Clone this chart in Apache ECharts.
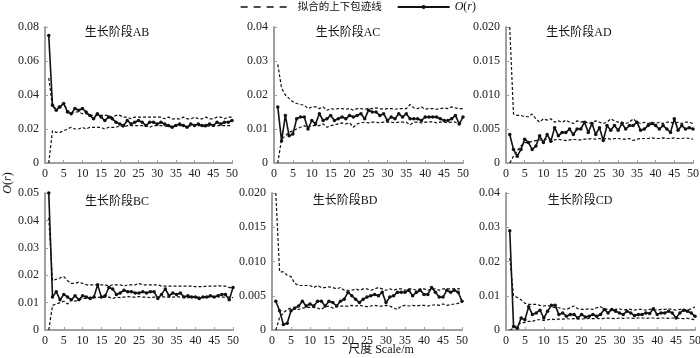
<!DOCTYPE html>
<html><head><meta charset="utf-8">
<script src="https://cdn.jsdelivr.net/npm/echarts@6/dist/echarts.min.js"></script>
<style>html,body{margin:0;padding:0;background:#fff}#c{width:700px;height:358px}</style>
</head><body><div id="c"></div>
<script>
// r = 1..50
var radii = [];
for (var i = 1; i <= 50; i++) radii.push(i);
var xTicks = [0,5,10,15,20,25,30,35,40,45,50];

var panelNames = ['生长阶段AB','生长阶段AC','生长阶段AD','生长阶段BC','生长阶段BD','生长阶段CD'];
var yMax  = [0.08, 0.04, 0.020, 0.05, 0.020, 0.04];
var yStep = [0.02, 0.01, 0.005, 0.01, 0.005, 0.01];
var yDecimals = [2, 2, 3, 2, 3, 2];

var oAB = [0.075,0.034,0.031,0.033,0.035,0.030,0.029,0.032,0.031,0.032,
           0.030,0.028,0.026,0.029,0.027,0.025,0.027,0.026,0.024,0.023,
           0.022,0.025,0.023,0.024,0.025,0.024,0.022,0.024,0.024,0.023,
           0.024,0.023,0.022,0.021,0.022,0.023,0.022,0.021,0.023,0.022,
           0.023,0.022,0.022,0.023,0.022,0.024,0.023,0.024,0.024,0.025];
var upAB = [0.050,0.033,0.032,0.034,0.035,0.031,0.029,0.030,0.030,0.029,
            0.029,0.028,0.028,0.028,0.028,0.028,0.028,0.027,0.028,0.028,
            0.027,0.027,0.026,0.027,0.027,0.027,0.027,0.027,0.027,0.027,
            0.027,0.026,0.027,0.026,0.026,0.026,0.027,0.026,0.026,0.027,
            0.026,0.026,0.027,0.026,0.026,0.027,0.027,0.026,0.027,0.027];
var loAB = [0.000,0.019,0.018,0.018,0.019,0.020,0.021,0.020,0.020,0.021,
            0.020,0.021,0.021,0.021,0.021,0.020,0.021,0.021,0.021,0.022,
            0.021,0.022,0.022,0.022,0.022,0.022,0.022,0.021,0.022,0.022,
            0.022,0.022,0.021,0.022,0.022,0.022,0.022,0.021,0.022,0.022,
            0.022,0.022,0.021,0.022,0.022,0.022,0.022,0.022,0.022,0.022];

var oAC = [0.0165,0.0065,0.014,0.008,0.0085,0.013,0.0135,0.0135,0.010,0.0125,
           0.0115,0.0145,0.0125,0.013,0.014,0.0125,0.013,0.0135,0.013,0.014,
           0.0135,0.014,0.0145,0.013,0.0155,0.015,0.015,0.014,0.0145,0.0125,
           0.0135,0.013,0.0145,0.0135,0.0145,0.013,0.013,0.013,0.0125,0.0135,
           0.0135,0.0135,0.0135,0.013,0.0125,0.0125,0.013,0.014,0.0115,0.0135];
var upAC = [0.029,0.022,0.020,0.019,0.018,0.0175,0.0172,0.017,0.016,0.0165,
            0.0165,0.016,0.0165,0.0155,0.016,0.0158,0.016,0.016,0.0158,0.016,
            0.0155,0.016,0.016,0.0158,0.016,0.016,0.0162,0.016,0.0158,0.016,
            0.016,0.0158,0.016,0.016,0.016,0.0172,0.0162,0.016,0.0165,0.0158,
            0.016,0.016,0.0158,0.016,0.0162,0.016,0.0165,0.0162,0.016,0.016];
var loAC = [0.0,0.007,0.008,0.009,0.0095,0.010,0.0105,0.011,0.0105,0.011,
            0.011,0.011,0.0115,0.0105,0.011,0.0112,0.0115,0.0118,0.0115,0.0118,
            0.0105,0.0115,0.0118,0.012,0.0118,0.012,0.012,0.0118,0.012,0.012,
            0.012,0.0118,0.012,0.012,0.012,0.0112,0.012,0.012,0.0118,0.012,
            0.012,0.0122,0.0118,0.012,0.012,0.0118,0.012,0.012,0.0115,0.012];

var oAD = [0.0042,0.002,0.001,0.002,0.0035,0.003,0.002,0.0025,0.004,0.003,
           0.0042,0.0032,0.0052,0.004,0.0045,0.0045,0.005,0.0042,0.005,0.005,
           0.006,0.0045,0.0058,0.0042,0.0052,0.0033,0.0055,0.0048,0.0055,0.0048,
           0.0058,0.005,0.0055,0.0055,0.006,0.0048,0.005,0.0055,0.0058,0.0055,
           0.005,0.0055,0.005,0.0045,0.0065,0.0048,0.0055,0.005,0.0052,0.005];
var upAD = [0.020,0.0072,0.007,0.007,0.0068,0.0068,0.0072,0.0065,0.006,0.0065,
            0.0063,0.0065,0.006,0.0062,0.006,0.0063,0.006,0.0058,0.0062,0.006,
            0.0062,0.0058,0.006,0.0062,0.006,0.0058,0.006,0.0065,0.0062,0.006,
            0.006,0.0058,0.006,0.0065,0.006,0.0058,0.006,0.0058,0.006,0.0058,
            0.006,0.0058,0.006,0.006,0.0058,0.006,0.0058,0.006,0.006,0.0058];
var loAD = [0.0,0.001,0.0018,0.0025,0.003,0.003,0.0032,0.0033,0.0034,0.0034,
            0.0035,0.0035,0.0034,0.0035,0.0034,0.0033,0.0034,0.0035,0.0034,0.0034,
            0.0035,0.0035,0.0036,0.0035,0.0036,0.0035,0.0036,0.0035,0.0036,0.0036,
            0.0035,0.0035,0.0036,0.0033,0.0035,0.0036,0.0036,0.0036,0.0037,0.0036,
            0.0036,0.0037,0.0036,0.0036,0.0037,0.0036,0.0036,0.0037,0.0036,0.0035];

var oBC = [0.05,0.012,0.014,0.011,0.013,0.012,0.011,0.0125,0.011,0.0125,
           0.012,0.0115,0.012,0.0165,0.012,0.0125,0.0155,0.015,0.013,0.0135,
           0.0145,0.014,0.014,0.0135,0.0135,0.014,0.0135,0.014,0.014,0.0115,
           0.013,0.015,0.0125,0.0135,0.013,0.0135,0.012,0.0125,0.012,0.012,
           0.0115,0.012,0.012,0.0125,0.012,0.0125,0.013,0.013,0.011,0.0155];
var upBC = [0.041,0.018,0.0185,0.019,0.0195,0.018,0.017,0.017,0.0175,0.017,
            0.0165,0.0165,0.0165,0.0165,0.0165,0.0165,0.016,0.0165,0.0165,0.0165,
            0.016,0.0165,0.0165,0.0165,0.017,0.0165,0.0165,0.0165,0.0165,0.0165,
            0.016,0.016,0.016,0.016,0.016,0.016,0.016,0.016,0.016,0.0158,
            0.0158,0.0158,0.016,0.016,0.016,0.0162,0.016,0.016,0.0155,0.0155];
var loBC = [0.0,0.009,0.0095,0.010,0.0105,0.0095,0.011,0.0105,0.011,0.0115,
            0.0115,0.012,0.0118,0.012,0.0118,0.012,0.012,0.0115,0.012,0.0118,
            0.012,0.0122,0.012,0.012,0.0122,0.012,0.012,0.0118,0.012,0.012,
            0.0122,0.012,0.012,0.012,0.0122,0.012,0.012,0.0118,0.012,0.012,
            0.012,0.0122,0.012,0.012,0.012,0.0122,0.012,0.012,0.012,0.0118];

var oBD = [0.0042,0.0028,0.0008,0.001,0.0028,0.0032,0.0035,0.0042,0.0035,0.0038,
           0.0035,0.0042,0.0042,0.0035,0.0042,0.004,0.0035,0.0042,0.0045,0.0055,
           0.005,0.0045,0.004,0.0045,0.0048,0.005,0.0052,0.005,0.0055,0.004,
           0.0048,0.005,0.0055,0.0055,0.0055,0.0058,0.005,0.0055,0.0058,0.0052,
           0.0052,0.0062,0.0055,0.0048,0.0048,0.0058,0.0055,0.0058,0.0055,0.0042];
var upBD = [0.020,0.0085,0.0085,0.008,0.0078,0.0068,0.0065,0.0065,0.0065,0.0065,
            0.0062,0.0065,0.0062,0.0062,0.0063,0.0062,0.006,0.0062,0.0058,0.0058,
            0.0058,0.006,0.0058,0.006,0.006,0.0058,0.006,0.0062,0.006,0.0058,
            0.006,0.0058,0.006,0.006,0.0058,0.006,0.006,0.0058,0.006,0.006,
            0.0058,0.006,0.006,0.0058,0.006,0.006,0.006,0.006,0.006,0.006];
var loBD = [0.0,0.0018,0.0025,0.003,0.0032,0.003,0.003,0.0032,0.0033,0.0033,
            0.0033,0.0032,0.003,0.0034,0.0035,0.0032,0.0034,0.0035,0.0035,0.0035,
            0.0036,0.0035,0.0036,0.0035,0.0034,0.0035,0.0036,0.0035,0.0035,0.0036,
            0.0035,0.0032,0.003,0.0035,0.0036,0.0035,0.0036,0.0035,0.0036,0.0036,
            0.0035,0.0036,0.0037,0.0036,0.0038,0.0036,0.0037,0.0038,0.0039,0.004];

var oCD = [0.029,0.001,0.0005,0.0035,0.003,0.0068,0.0045,0.005,0.0058,0.0035,
           0.0055,0.0072,0.0072,0.0045,0.005,0.004,0.0045,0.0045,0.0035,0.0045,
           0.0038,0.004,0.0045,0.004,0.0045,0.006,0.005,0.006,0.0055,0.005,
           0.0045,0.0055,0.005,0.0042,0.0045,0.0045,0.005,0.0048,0.0062,0.0045,
           0.005,0.005,0.0055,0.005,0.0035,0.005,0.0058,0.0055,0.005,0.004];
var upCD = [0.021,0.010,0.0095,0.0088,0.0078,0.0075,0.0075,0.0075,0.0072,0.007,
            0.0072,0.0068,0.0065,0.0065,0.0062,0.006,0.0065,0.007,0.0062,0.006,
            0.006,0.0062,0.006,0.0065,0.0068,0.0062,0.006,0.0058,0.006,0.0062,
            0.0058,0.006,0.006,0.0058,0.006,0.006,0.0058,0.006,0.006,0.0058,
            0.006,0.006,0.0062,0.006,0.0058,0.006,0.006,0.0058,0.0062,0.0068];
var loCD = [0.0,0.0005,0.0015,0.002,0.0022,0.0025,0.0025,0.003,0.003,0.0028,
            0.003,0.0032,0.003,0.0032,0.0032,0.0033,0.0032,0.0033,0.0033,0.0032,
            0.0033,0.0034,0.0033,0.0034,0.0033,0.0034,0.0035,0.0034,0.0033,0.0035,
            0.0034,0.0035,0.0035,0.0034,0.0035,0.0035,0.0034,0.0035,0.0035,0.0034,
            0.0035,0.0035,0.0034,0.0035,0.0035,0.0034,0.0033,0.0034,0.0032,0.003];

var observed = [oAB, oAC, oAD, oBC, oBD, oCD];
var upper = [upAB, upAC, upAD, upBC, upBD, upCD];
var lower = [loAB, loAC, loAD, loBC, loBD, loCD];

var envName = '拟合的上下包迹线';
var obsName = 'O(r)';

// layout (pixels)
var gridRects = [
  {left:45, top:27, width:187, height:136},
  {left:274, top:27, width:189, height:136},
  {left:506, top:27, width:187, height:136},
  {left:45, top:193, width:188, height:137},
  {left:272, top:193, width:190, height:137},
  {left:506, top:193, width:189, height:137}
];
var titlePos = [[117,33],[348,33],[579,33],[117,202],[345,201],[580,201]];

var serif = '"Liberation Serif","Noto Sans CJK SC",serif';
var axisGray = '#a0a0a0';

function pairs(arr){ return arr.map(function(v,i){ return [radii[i], v]; }); }

var grids = [], xAxes = [], yAxes = [], series = [], graphics = [];
for (var p = 0; p < 6; p++) {
  var g = gridRects[p];
  grids.push({left:g.left, top:g.top, width:g.width, height:g.height, outerBoundsMode:'none', containLabel:false});
  xAxes.push({
    type:'value', gridIndex:p, min:0, max:50, interval:5,
    axisLine:{show:true, onZero:false, lineStyle:{color:axisGray, width:2}},
    axisTick:{show:true, inside:true, length:3, lineStyle:{color:axisGray, width:1}},
    axisLabel:{color:'#222', fontFamily:serif, fontSize:12, margin:5, showMinLabel:true, showMaxLabel:true},
    splitLine:{show:false}
  });
  (function(dec){
    yAxes.push({
      type:'value', gridIndex:p, min:0, max:yMax[p], interval:yStep[p],
      axisLine:{show:true, onZero:false, lineStyle:{color:axisGray, width:2}},
      axisTick:{show:true, inside:true, length:3, lineStyle:{color:axisGray, width:1}},
      axisLabel:{color:'#222', fontFamily:serif, fontSize:12, margin:6,
        formatter:function(v){ return Math.abs(v) < 1e-12 ? '0' : v.toFixed(dec); }},
      splitLine:{show:false}
    });
  })(yDecimals[p]);
  var dashed = {color:'#111', width:1.2, type:[3,2]};
  series.push({name:envName, type:'line', xAxisIndex:p, yAxisIndex:p, data:pairs(upper[p]),
    symbol:'none', lineStyle:dashed, itemStyle:{color:'#111'}, z:2, silent:true, animation:false});
  series.push({name:envName, type:'line', xAxisIndex:p, yAxisIndex:p, data:pairs(lower[p]),
    symbol:'none', lineStyle:dashed, itemStyle:{color:'#111'}, z:2, silent:true, animation:false});
  series.push({name:obsName, type:'line', xAxisIndex:p, yAxisIndex:p, data:pairs(observed[p]),
    symbol:'circle', symbolSize:3.5, showSymbol:true,
    lineStyle:{color:'#111', width:1.6}, itemStyle:{color:'#111'}, z:3, silent:true, animation:false});
  graphics.push({type:'text', x:titlePos[p][0], y:titlePos[p][1],
    style:{text:panelNames[p], fill:'#111', font:'12px ' + serif, textAlign:'center', textVerticalAlign:'middle'}});
}

graphics.push({type:'text', x:8, y:183, rotation:Math.PI/2,
  style:{rich:{it:{fontStyle:'italic', fontFamily:serif, fontSize:12, fill:'#111'}, n:{fontFamily:serif, fontSize:12, fill:'#111'}},
    text:'{it|O}{n|(}{it|r}{n|)}', textAlign:'center', textVerticalAlign:'middle'}});
graphics.push({type:'text', x:381, y:350,
  style:{text:'尺度 Scale/m', fill:'#111', font:'12px ' + serif, textAlign:'center', textVerticalAlign:'middle'}});

var chart = echarts.init(document.getElementById('c'), null, {renderer:'canvas'});
chart.setOption({
  animation:false,
  backgroundColor:'#fff',
  legend:{
    data:[
      {name:envName, itemStyle:{color:'rgba(0,0,0,0)', borderWidth:0, opacity:0},
       lineStyle:{color:'#111', width:1.3, type:[7,6]}},
      {name:obsName}
    ],
    left:240, top:1, padding:0, itemWidth:52, itemHeight:5, itemGap:15,
    textStyle:{fontFamily:serif, fontSize:10.5, color:'#111',
      rich:{it:{fontStyle:'italic', fontFamily:serif, fontSize:12, color:'#111'}, n:{fontFamily:serif, fontSize:12, color:'#111'}}},
    formatter:function(name){ return name === obsName ? '{it|O}{n|(}{it|r}{n|)}' : name; },
    selectedMode:false
  },
  grid:grids, xAxis:xAxes, yAxis:yAxes, series:series, graphic:graphics
});
</script></body></html>
